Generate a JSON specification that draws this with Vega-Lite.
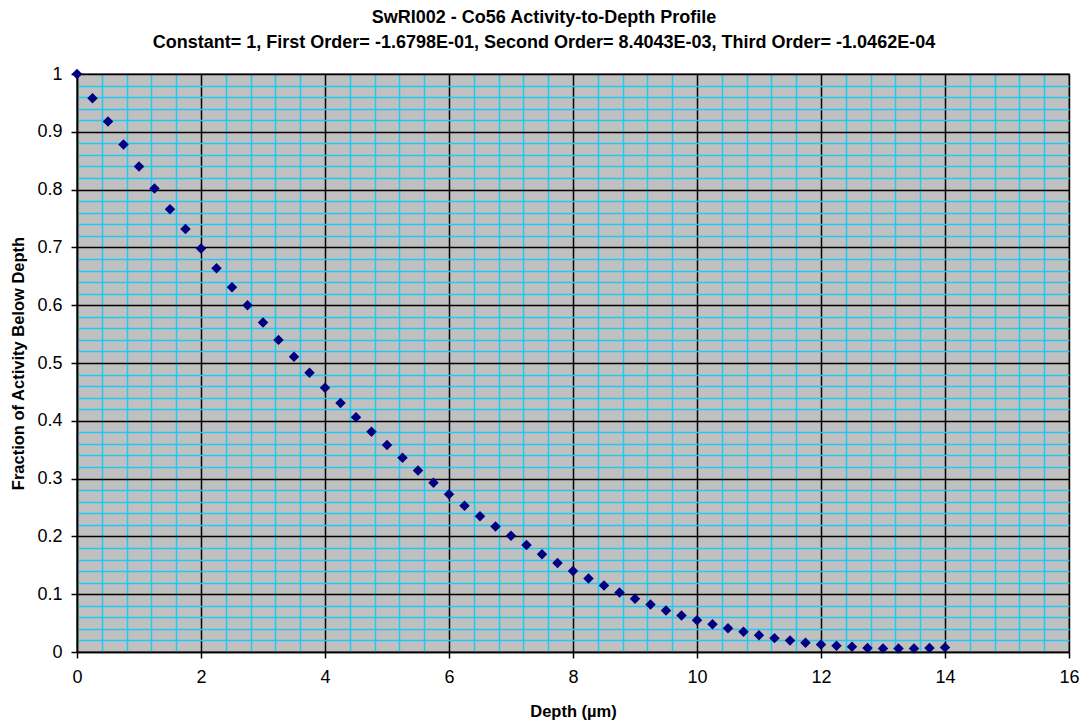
{
  "$schema": "https://vega.github.io/schema/vega-lite/v6.json",
  "width": 992,
  "height": 578,
  "autosize": {"type": "none"},
  "padding": {"left": 77, "top": 74, "right": 18, "bottom": 74},
  "background": "white",
  "config": {
    "font": "Liberation Sans",
    "view": {"fill": "#c0c0c0", "stroke": "#808080", "strokeWidth": 2}
  },
  "title": {
    "text": ["SwRI002 - Co56 Activity-to-Depth Profile", "Constant= 1, First Order= -1.6798E-01, Second Order= 8.4043E-03, Third Order= -1.0462E-04"],
    "font": "Liberation Sans",
    "fontSize": 18,
    "fontWeight": "bold",
    "color": "black",
    "lineHeight": 25,
    "anchor": "middle",
    "dx": -29,
    "offset": 13
  },
  "data": {
    "values": [
      {"depth": 0, "fraction": 1.0},
      {"depth": 0.25, "fraction": 0.958},
      {"depth": 0.5, "fraction": 0.918},
      {"depth": 0.75, "fraction": 0.878},
      {"depth": 1.0, "fraction": 0.840},
      {"depth": 1.25, "fraction": 0.802},
      {"depth": 1.5, "fraction": 0.766},
      {"depth": 1.75, "fraction": 0.732},
      {"depth": 2.0, "fraction": 0.698},
      {"depth": 2.25, "fraction": 0.664},
      {"depth": 2.5, "fraction": 0.631},
      {"depth": 2.75, "fraction": 0.600},
      {"depth": 3.0, "fraction": 0.570},
      {"depth": 3.25, "fraction": 0.540},
      {"depth": 3.5, "fraction": 0.511},
      {"depth": 3.75, "fraction": 0.483},
      {"depth": 4.0, "fraction": 0.457},
      {"depth": 4.25, "fraction": 0.431},
      {"depth": 4.5, "fraction": 0.406},
      {"depth": 4.75, "fraction": 0.381},
      {"depth": 5.0, "fraction": 0.358},
      {"depth": 5.25, "fraction": 0.336},
      {"depth": 5.5, "fraction": 0.314},
      {"depth": 5.75, "fraction": 0.293},
      {"depth": 6.0, "fraction": 0.273},
      {"depth": 6.25, "fraction": 0.253},
      {"depth": 6.5, "fraction": 0.235},
      {"depth": 6.75, "fraction": 0.217},
      {"depth": 7.0, "fraction": 0.201},
      {"depth": 7.25, "fraction": 0.185},
      {"depth": 7.5, "fraction": 0.169},
      {"depth": 7.75, "fraction": 0.154},
      {"depth": 8.0, "fraction": 0.140},
      {"depth": 8.25, "fraction": 0.127},
      {"depth": 8.5, "fraction": 0.115},
      {"depth": 8.75, "fraction": 0.103},
      {"depth": 9.0, "fraction": 0.092},
      {"depth": 9.25, "fraction": 0.082},
      {"depth": 9.5, "fraction": 0.072},
      {"depth": 9.75, "fraction": 0.063},
      {"depth": 10.0, "fraction": 0.055},
      {"depth": 10.25, "fraction": 0.048},
      {"depth": 10.5, "fraction": 0.041},
      {"depth": 10.75, "fraction": 0.035},
      {"depth": 11.0, "fraction": 0.029},
      {"depth": 11.25, "fraction": 0.024},
      {"depth": 11.5, "fraction": 0.020},
      {"depth": 11.75, "fraction": 0.016},
      {"depth": 12.0, "fraction": 0.013},
      {"depth": 12.25, "fraction": 0.011},
      {"depth": 12.5, "fraction": 0.009},
      {"depth": 12.75, "fraction": 0.007},
      {"depth": 13.0, "fraction": 0.006},
      {"depth": 13.25, "fraction": 0.006},
      {"depth": 13.5, "fraction": 0.006},
      {"depth": 13.75, "fraction": 0.007},
      {"depth": 14.0, "fraction": 0.008}
    ]
  },
  "mark": {"type": "point", "shape": "diamond", "filled": true, "color": "#000080", "opacity": 1, "size": 110, "clip": false},
  "encoding": {
    "x": {
      "field": "depth",
      "type": "quantitative",
      "scale": {"domain": [0, 16], "nice": false, "zero": true},
      "axis": {
        "title": "Depth (µm)",
        "titleFont": "Liberation Sans",
        "titleFontSize": 16.5,
        "titleFontWeight": "bold",
        "titleColor": "black",
        "titlePadding": 17,
        "values": [0, 0.4, 0.8, 1.2, 1.6, 2, 2.4, 2.8, 3.2, 3.6, 4, 4.4, 4.8, 5.2, 5.6, 6, 6.4, 6.8, 7.2, 7.6, 8, 8.4, 8.8, 9.2, 9.6, 10, 10.4, 10.8, 11.2, 11.6, 12, 12.4, 12.8, 13.2, 13.6, 14, 14.4, 14.8, 15.2, 15.6, 16],
        "format": "~g",
        "labelExpr": "abs(datum.value/2 - round(datum.value/2)) < 1e-6 ? datum.label : ''",
        "labelFont": "Liberation Sans",
        "labelFontSize": 18,
        "labelColor": "black",
        "labelPadding": 10,
        "labelFlush": false,
        "labelOverlap": false,
        "grid": true,
        "gridColor": {"condition": {"test": "abs(datum.value/2 - round(datum.value/2)) < 1e-6", "value": "#000000"}, "value": "#22c8f2"},
        "gridWidth": 1.5,
        "gridOpacity": 1,
        "domainColor": "#000000",
        "domainWidth": 1.5,
        "tickColor": "#000000",
        "tickOpacity": {"condition": {"test": "abs(datum.value/2 - round(datum.value/2)) < 1e-6", "value": 1}, "value": 0},
        "tickSize": 6,
        "tickWidth": 1.5
      }
    },
    "y": {
      "field": "fraction",
      "type": "quantitative",
      "scale": {"domain": [0, 1], "nice": false},
      "axis": {
        "title": "Fraction of Activity Below Depth",
        "titleFont": "Liberation Sans",
        "titleFontSize": 16.5,
        "titleFontWeight": "bold",
        "titleColor": "black",
        "titlePadding": 10,
        "values": [0, 0.02, 0.04, 0.06, 0.08, 0.1, 0.12, 0.14, 0.16, 0.18, 0.2, 0.22, 0.24, 0.26, 0.28, 0.3, 0.32, 0.34, 0.36, 0.38, 0.4, 0.42, 0.44, 0.46, 0.48, 0.5, 0.52, 0.54, 0.56, 0.58, 0.6, 0.62, 0.64, 0.66, 0.68, 0.7, 0.72, 0.74, 0.76, 0.78, 0.8, 0.82, 0.84, 0.86, 0.88, 0.9, 0.92, 0.94, 0.96, 0.98, 1],
        "labelExpr": "abs(datum.value*10 - round(datum.value*10)) < 1e-6 ? datum.label : ''",
        "format": "~g",
        "labelFont": "Liberation Sans",
        "labelFontSize": 18,
        "labelColor": "black",
        "labelPadding": 9,
        "labelFlush": false,
        "labelOverlap": false,
        "grid": true,
        "gridColor": {"condition": {"test": "abs(datum.value*10 - round(datum.value*10)) < 1e-6", "value": "#000000"}, "value": "#22c8f2"},
        "gridWidth": 1.5,
        "gridOpacity": 1,
        "domainColor": "#000000",
        "domainWidth": 1.5,
        "tickColor": "#000000",
        "tickOpacity": {"condition": {"test": "abs(datum.value*10 - round(datum.value*10)) < 1e-6", "value": 1}, "value": 0},
        "tickSize": 6,
        "tickWidth": 1.5
      }
    }
  }
}
